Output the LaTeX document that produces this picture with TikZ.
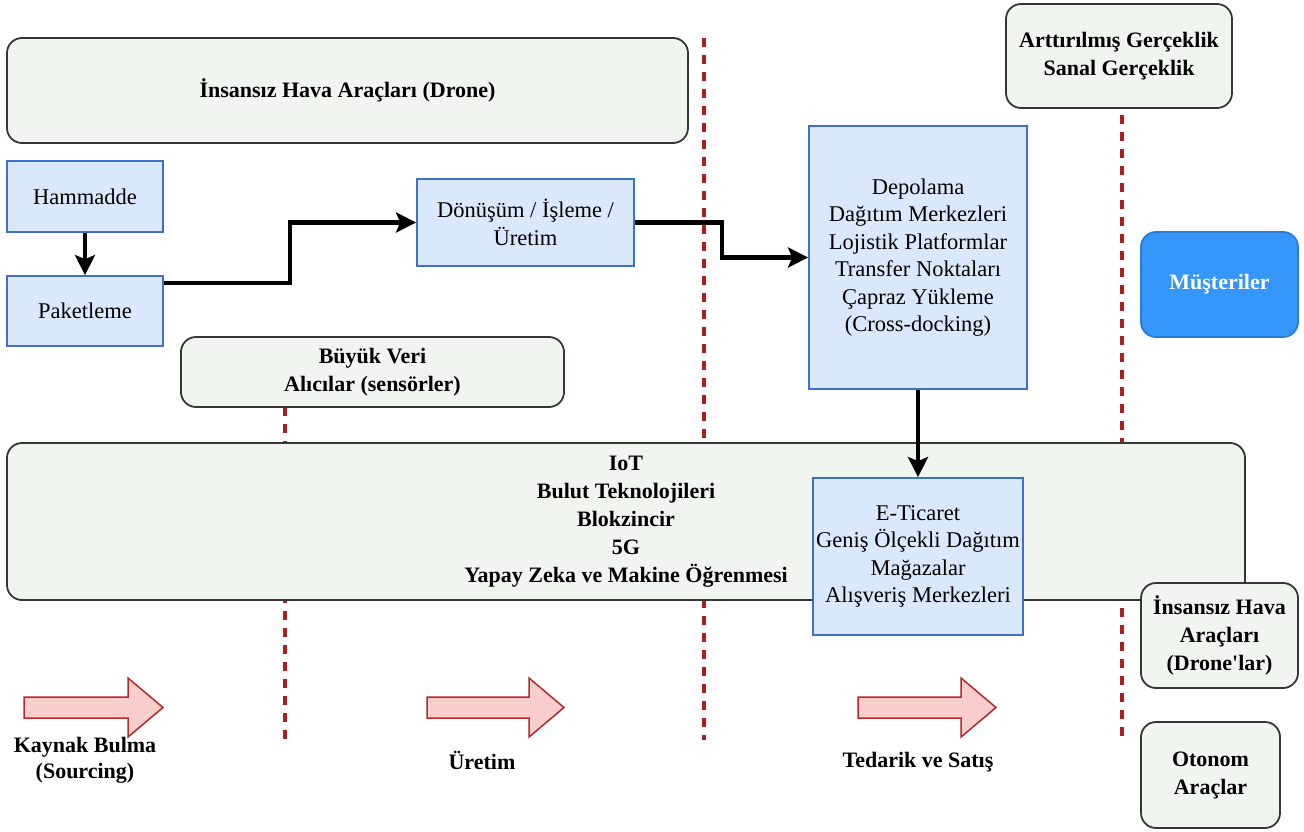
\documentclass[tikz,border=0pt]{standalone}
\usepackage{fontspec}
\setmainfont{Liberation Serif}
\usetikzlibrary{arrows.meta}

\definecolor{boxgray}{RGB}{241,245,239}
\definecolor{edgegray}{RGB}{54,54,54}
\definecolor{bluefill}{RGB}{218,232,252}
\definecolor{blueedge}{RGB}{62,112,200}
\definecolor{custfill}{RGB}{52,150,248}
\definecolor{custedge}{RGB}{44,124,214}
\definecolor{divred}{RGB}{175,30,30}
\definecolor{stagefill}{RGB}{248,206,204}
\definecolor{stageedge}{RGB}{184,40,40}

\begin{document}
\begin{tikzpicture}[x=1pt,y=-1pt,
  every node/.style={font=\fontsize{22.5}{27.5}\selectfont},
  greybox/.style={draw=edgegray, fill=boxgray, line width=1.8pt, rounded corners=15pt,
    align=center, inner sep=0pt, font=\fontsize{22}{28}\selectfont\bfseries},
  bluebox/.style={draw=blueedge, fill=bluefill, line width=1.8pt, align=center, inner sep=0pt},
  custbox/.style={draw=custedge, fill=custfill, line width=1.8pt, rounded corners=15pt,
    align=center, inner sep=0pt, text=white, font=\fontsize{22}{28}\selectfont\bfseries},
  flow/.style={line width=4.5pt, -{Stealth[length=20pt,width=20pt,inset=4pt]}},
  divider/.style={draw=divred, line width=3.2pt, dash pattern=on 9pt off 8pt},
  stagearrow/.style={draw=stageedge, fill=stagefill, line width=1.5pt},
  stagelabel/.style={align=center, font=\fontsize{22}{26}\selectfont\bfseries}]

\useasboundingbox (0,0) rectangle (1304,832);

% stage dividers
\draw[divider] (285,407) -- (285,740);
\draw[divider] (704,38) -- (704,740);
\draw[divider] (1122,115) -- (1122,740);

% technology bands
\node[greybox, minimum width=681pt, minimum height=105pt] (drone) at (347.5,90.5)
  {İnsansız Hava Araçları (Drone)};
\node[greybox, minimum width=383pt, minimum height=70pt] (bigdata) at (372.5,372)
  {Büyük Veri\\Alıcılar (sensörler)};
\node[greybox, minimum width=1238pt, minimum height=157pt] (iot) at (626,521.5)
  {IoT\\Bulut Teknolojileri\\Blokzincir\\5G\\Yapay Zeka ve Makine Öğrenmesi};
\node[greybox, minimum width=226pt, minimum height=104pt] (arvr) at (1119,56)
  {Arttırılmış Gerçeklik\\Sanal Gerçeklik};
\node[greybox, minimum width=157pt, minimum height=105pt] (drones) at (1219.5,635.5)
  {İnsansız Hava\\Araçları\\(Drone\textquotesingle lar)};
\node[greybox, minimum width=139pt, minimum height=106pt] (auto) at (1210.5,775)
  {Otonom\\Araçlar};
\node[custbox, minimum width=157pt, minimum height=105pt] (cust) at (1219.5,284.5)
  {Müşteriler};

% supply chain steps
\node[bluebox, minimum width=156pt, minimum height=71pt] (ham) at (85,196.5) {Hammadde};
\node[bluebox, minimum width=156pt, minimum height=70pt] (pak) at (85,311) {Paketleme};
\node[bluebox, minimum width=217pt, minimum height=87pt] (don) at (525.5,222.5)
  {Dönüşüm / İşleme /\\Üretim};
\node[bluebox, minimum width=218pt, minimum height=263pt] (dep) at (918,257.5)
  {Depolama\\Dağıtım Merkezleri\\Lojistik Platformlar\\Transfer Noktaları\\Çapraz Yükleme\\(Cross-docking)};
\node[bluebox, minimum width=210pt, minimum height=157pt] (etc) at (918,556.5)
  {E-Ticaret\\Geniş Ölçekli Dağıtım\\Mağazalar\\Alışveriş Merkezleri};

% flows
\draw[flow] (ham.south) -- (pak.north);
\draw[flow] ([yshift=28pt]pak.east) -- ++(126,0) |- (don.west);
\draw[flow] (don.east) -- ++(87,0) |- (dep.west);
\draw[flow] (dep.south) -- (etc.north);

% stage arrows
\draw[stagearrow] (24,697) -- (128,697) -- (128,678) -- (163,707.5) -- (128,737) -- (128,718) -- (24,718) -- cycle;
\draw[stagearrow] (427,697) -- (529,697) -- (529,678) -- (564,707.5) -- (529,737) -- (529,718) -- (427,718) -- cycle;
\draw[stagearrow] (858,697) -- (961,697) -- (961,678) -- (996,707.5) -- (961,737) -- (961,718) -- (858,718) -- cycle;

\node[stagelabel] (s1) at (85,760) {Kaynak Bulma\\(Sourcing)};
\node[stagelabel] (s2) at (482,760) {Üretim};
\node[stagelabel] (s3) at (918,762) {Tedarik ve Satış};
\end{tikzpicture}
\end{document}
